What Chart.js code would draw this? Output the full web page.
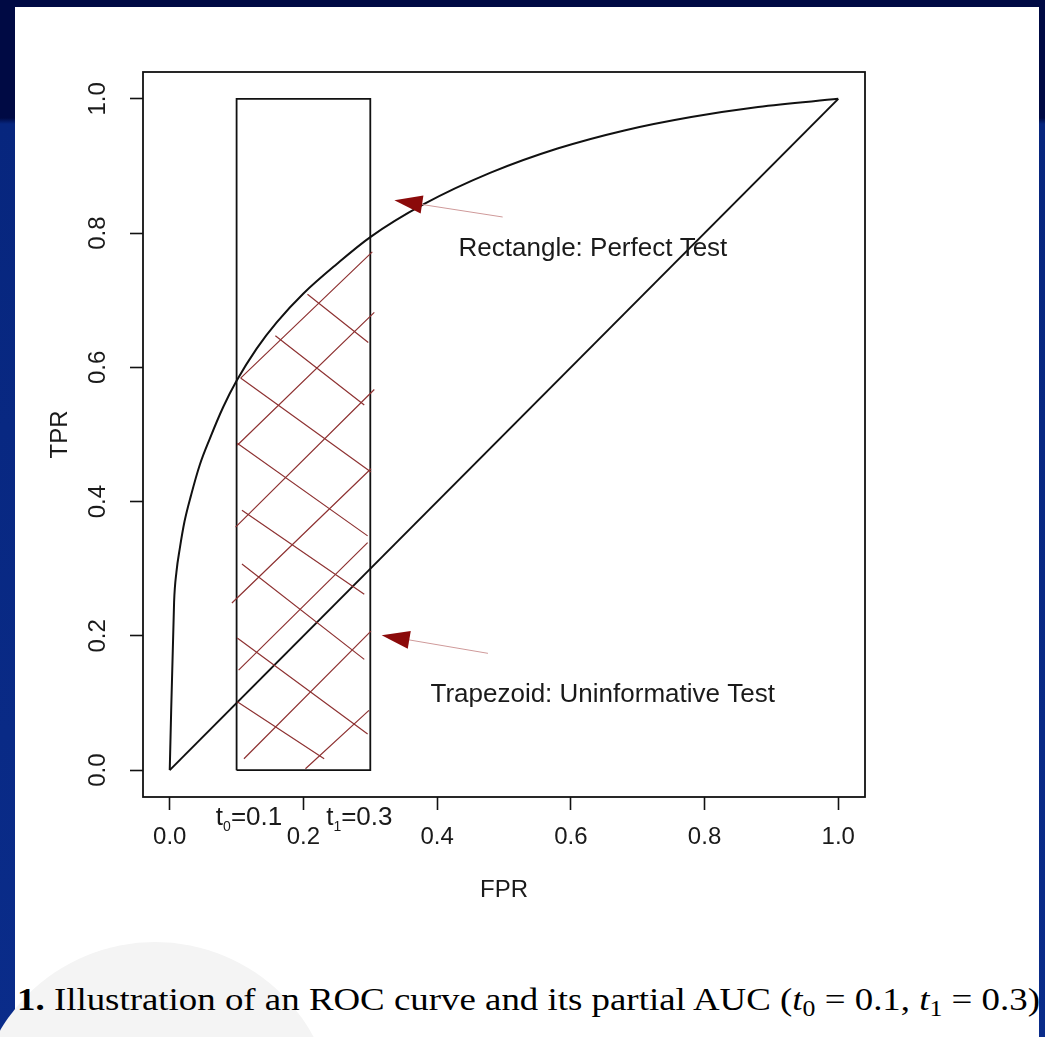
<!DOCTYPE html>
<html>
<head>
<meta charset="utf-8">
<script src="https://cdn.jsdelivr.net/npm/chart.js@4.4.1/dist/chart.umd.min.js"></script>
<style>
  html, body { margin: 0; padding: 0; }
  body {
    width: 1045px; height: 1037px; overflow: hidden; position: relative;
    background: linear-gradient(to bottom, #000a44 0, #000a44 118px, #07267e 124px, #0a2c8a 100%);
  }
  #panel { position: absolute; left: 15px; top: 7px; width: 1024px; height: 1030px; background: #fff; }
  #mark { position: absolute; left: -40px; top: 935px; width: 360px; height: 360px; border-radius: 50%; background: #f4f4f4; }
  #roc { position: absolute; left: 0; top: 0; }
  #caption {
    position: absolute; left: 2px; top: 974px; white-space: nowrap; transform-origin: 0 0;
    font-family: "Liberation Serif", "DejaVu Serif", serif; font-size: 32px; color: #000;
  }
  #caption sub { font-size: 70%; vertical-align: -6px; line-height: 0; }
</style>
</head>
<body>
<div id="panel">
  <div id="mark"></div>
  <canvas id="roc" width="1024" height="915"></canvas>
  <div id="caption"><b>1.</b> Illustration of an ROC curve and its partial AUC (<i>t</i><sub>0</sub> = 0.1, <i>t</i><sub>1</sub> = 0.3)</div>
</div>
<script>
// ROC curve
const fpr = [0, 0.0065, 0.01, 0.015, 0.022, 0.032, 0.045, 0.06, 0.08, 0.1, 0.13, 0.16, 0.2, 0.25, 0.3, 0.38, 0.48, 0.58, 0.68, 0.78, 0.88, 1];
const tpr = [0, 0.25, 0.295, 0.33, 0.37, 0.41, 0.455, 0.494, 0.541, 0.58, 0.628, 0.667, 0.71, 0.754, 0.794, 0.843, 0.89, 0.926, 0.953, 0.973, 0.988, 1];

const diagX = [0, 1];
const diagY = [0, 1];

const rectX = [0.1, 0.1, 0.3, 0.3, 0.1];
const rectY = [0, 1, 1, 0, 0];

// hatch segments [x1, y1, x2, y2]
const hatchUp = [
  [0.106, 0.584, 0.303, 0.772],
  [0.101, 0.484, 0.306, 0.682],
  [0.0985, 0.362, 0.306, 0.567],
  [0.093, 0.249, 0.301, 0.449],
  [0.103, 0.149, 0.296, 0.339],
  [0.111, 0.017, 0.301, 0.207],
  [0.203, 0.002, 0.298, 0.089]
];
const hatchDown = [
  [0.206, 0.709, 0.297, 0.637],
  [0.158, 0.647, 0.291, 0.544],
  [0.106, 0.584, 0.301, 0.444],
  [0.101, 0.487, 0.296, 0.349],
  [0.108, 0.387, 0.291, 0.262],
  [0.108, 0.307, 0.291, 0.165],
  [0.101, 0.197, 0.296, 0.054],
  [0.101, 0.102, 0.231, 0.017]
];

const xTicks = [0, 0.2, 0.4, 0.6, 0.8, 1.0];
const yTicks = [0, 0.2, 0.4, 0.6, 0.8, 1.0];

const arrowTail = [[0.498, 0.824], [0.476, 0.174]];
const arrowTip = [[0.336, 0.849], [0.317, 0.201]];

const notes = ['Rectangle: Perfect Test', 'Trapezoid: Uninformative Test'];
const noteX = [0.432, 0.39];
const noteY = [0.766, 0.102];

// t0 / t1 labels under the axis
const tMain = ['t', 't'];
const tSub = ['0', '1'];
const tRest = ['=0.1', '=0.3'];
const tX = [0.069, 0.234];
const tY = -0.081;

const FONT = '"Liberation Sans", Arial, sans-serif';
const INK = '#1a1a1a';

const pts = (xs, ys) => xs.map((v, i) => ({x: v, y: ys[i]}));
const hatchPts = [];
hatchUp.concat(hatchDown).forEach(s => {
  hatchPts.push({x: s[0], y: s[1]}, {x: s[2], y: s[3]}, {x: s[2], y: null});
});

const extras = {
  id: 'extras',
  afterDatasetsDraw(chart) {
    const {ctx, chartArea: a, scales: {x, y}} = chart;
    ctx.save();
    ctx.strokeStyle = '#111';
    ctx.lineWidth = 1.8;
    ctx.strokeRect(a.left, a.top, a.right - a.left, a.bottom - a.top);

    arrowTip.forEach((tip, i) => {
      const tx = x.getPixelForValue(tip[0]), ty = y.getPixelForValue(tip[1]);
      const sx = x.getPixelForValue(arrowTail[i][0]), sy = y.getPixelForValue(arrowTail[i][1]);
      const ang = Math.atan2(ty - sy, tx - sx);
      const len = 28, half = 9;
      const bx = tx - len * Math.cos(ang), by = ty - len * Math.sin(ang);
      ctx.strokeStyle = '#cf9a9a';
      ctx.lineWidth = 1;
      ctx.beginPath(); ctx.moveTo(sx, sy); ctx.lineTo(bx, by); ctx.stroke();
      ctx.fillStyle = '#8b0a0a';
      ctx.beginPath();
      ctx.moveTo(tx, ty);
      ctx.lineTo(bx + half * Math.sin(ang), by - half * Math.cos(ang));
      ctx.lineTo(bx - half * Math.sin(ang), by + half * Math.cos(ang));
      ctx.closePath(); ctx.fill();
    });

    ctx.fillStyle = INK;
    ctx.font = '26px ' + FONT;
    ctx.textBaseline = 'alphabetic';
    ctx.textAlign = 'left';
    notes.forEach((t, i) => ctx.fillText(t, x.getPixelForValue(noteX[i]), y.getPixelForValue(noteY[i])));

    tMain.forEach((t, i) => {
      let px = x.getPixelForValue(tX[i]);
      const py = y.getPixelForValue(tY);
      ctx.font = '26px ' + FONT;
      ctx.fillText(t, px, py);
      px += ctx.measureText(t).width;
      ctx.font = '14px ' + FONT;
      ctx.fillText(tSub[i], px, py + 6);
      px += ctx.measureText(tSub[i]).width;
      ctx.font = '26px ' + FONT;
      ctx.fillText(tRest[i], px, py);
    });
    ctx.restore();
  }
};

const tickFont = {size: 24, family: FONT};

new Chart(document.getElementById('roc'), {
  type: 'scatter',
  data: {
    datasets: [
      {data: hatchPts, showLine: true, spanGaps: false, borderColor: '#8e3232', borderWidth: 1.2, pointRadius: 0},
      {data: pts(rectX, rectY), showLine: true, borderColor: '#111', borderWidth: 1.8, pointRadius: 0},
      {data: pts(diagX, diagY), showLine: true, borderColor: '#111', borderWidth: 2, pointRadius: 0},
      {data: pts(fpr, tpr), showLine: true, borderColor: '#111', borderWidth: 2, pointRadius: 0, cubicInterpolationMode: 'monotone'}
    ]
  },
  options: {
    responsive: false,
    animation: false,
    layout: {padding: {top: 65, right: 174, left: 0, bottom: 0}},
    plugins: {legend: {display: false}, tooltip: {enabled: false}},
    scales: {
      x: {
        type: 'linear', min: -0.04, max: 1.04,
        afterBuildTicks: s => { s.ticks = xTicks.map(v => ({value: v})); },
        afterFit: s => { s.height = 125; },
        grid: {drawOnChartArea: false, drawTicks: true, tickLength: 13, tickColor: '#111', tickWidth: 1.6},
        border: {display: false},
        ticks: {padding: 13, color: INK, font: tickFont, maxRotation: 0, autoSkip: false, callback: v => v.toFixed(1)},
        title: {display: true, text: 'FPR', color: INK, font: tickFont, padding: {top: 0, bottom: 17}}
      },
      y: {
        type: 'linear', min: -0.04, max: 1.04,
        afterBuildTicks: s => { s.ticks = yTicks.map(v => ({value: v})); },
        afterFit: s => { s.width = 128; },
        grid: {drawOnChartArea: false, drawTicks: true, tickLength: 13, tickColor: '#111', tickWidth: 1.6},
        border: {display: false},
        ticks: {padding: 15, color: INK, font: tickFont, minRotation: 90, maxRotation: 90, crossAlign: 'center', autoSkip: false, callback: v => v.toFixed(1)},
        title: {display: true, text: 'TPR', color: INK, font: tickFont, padding: {top: 31, bottom: 0}}
      }
    }
  },
  plugins: [extras]
});

const cap = document.getElementById('caption');
cap.style.transform = 'scaleX(' + (1023 / cap.getBoundingClientRect().width) + ')';
</script>
</body>
</html>
